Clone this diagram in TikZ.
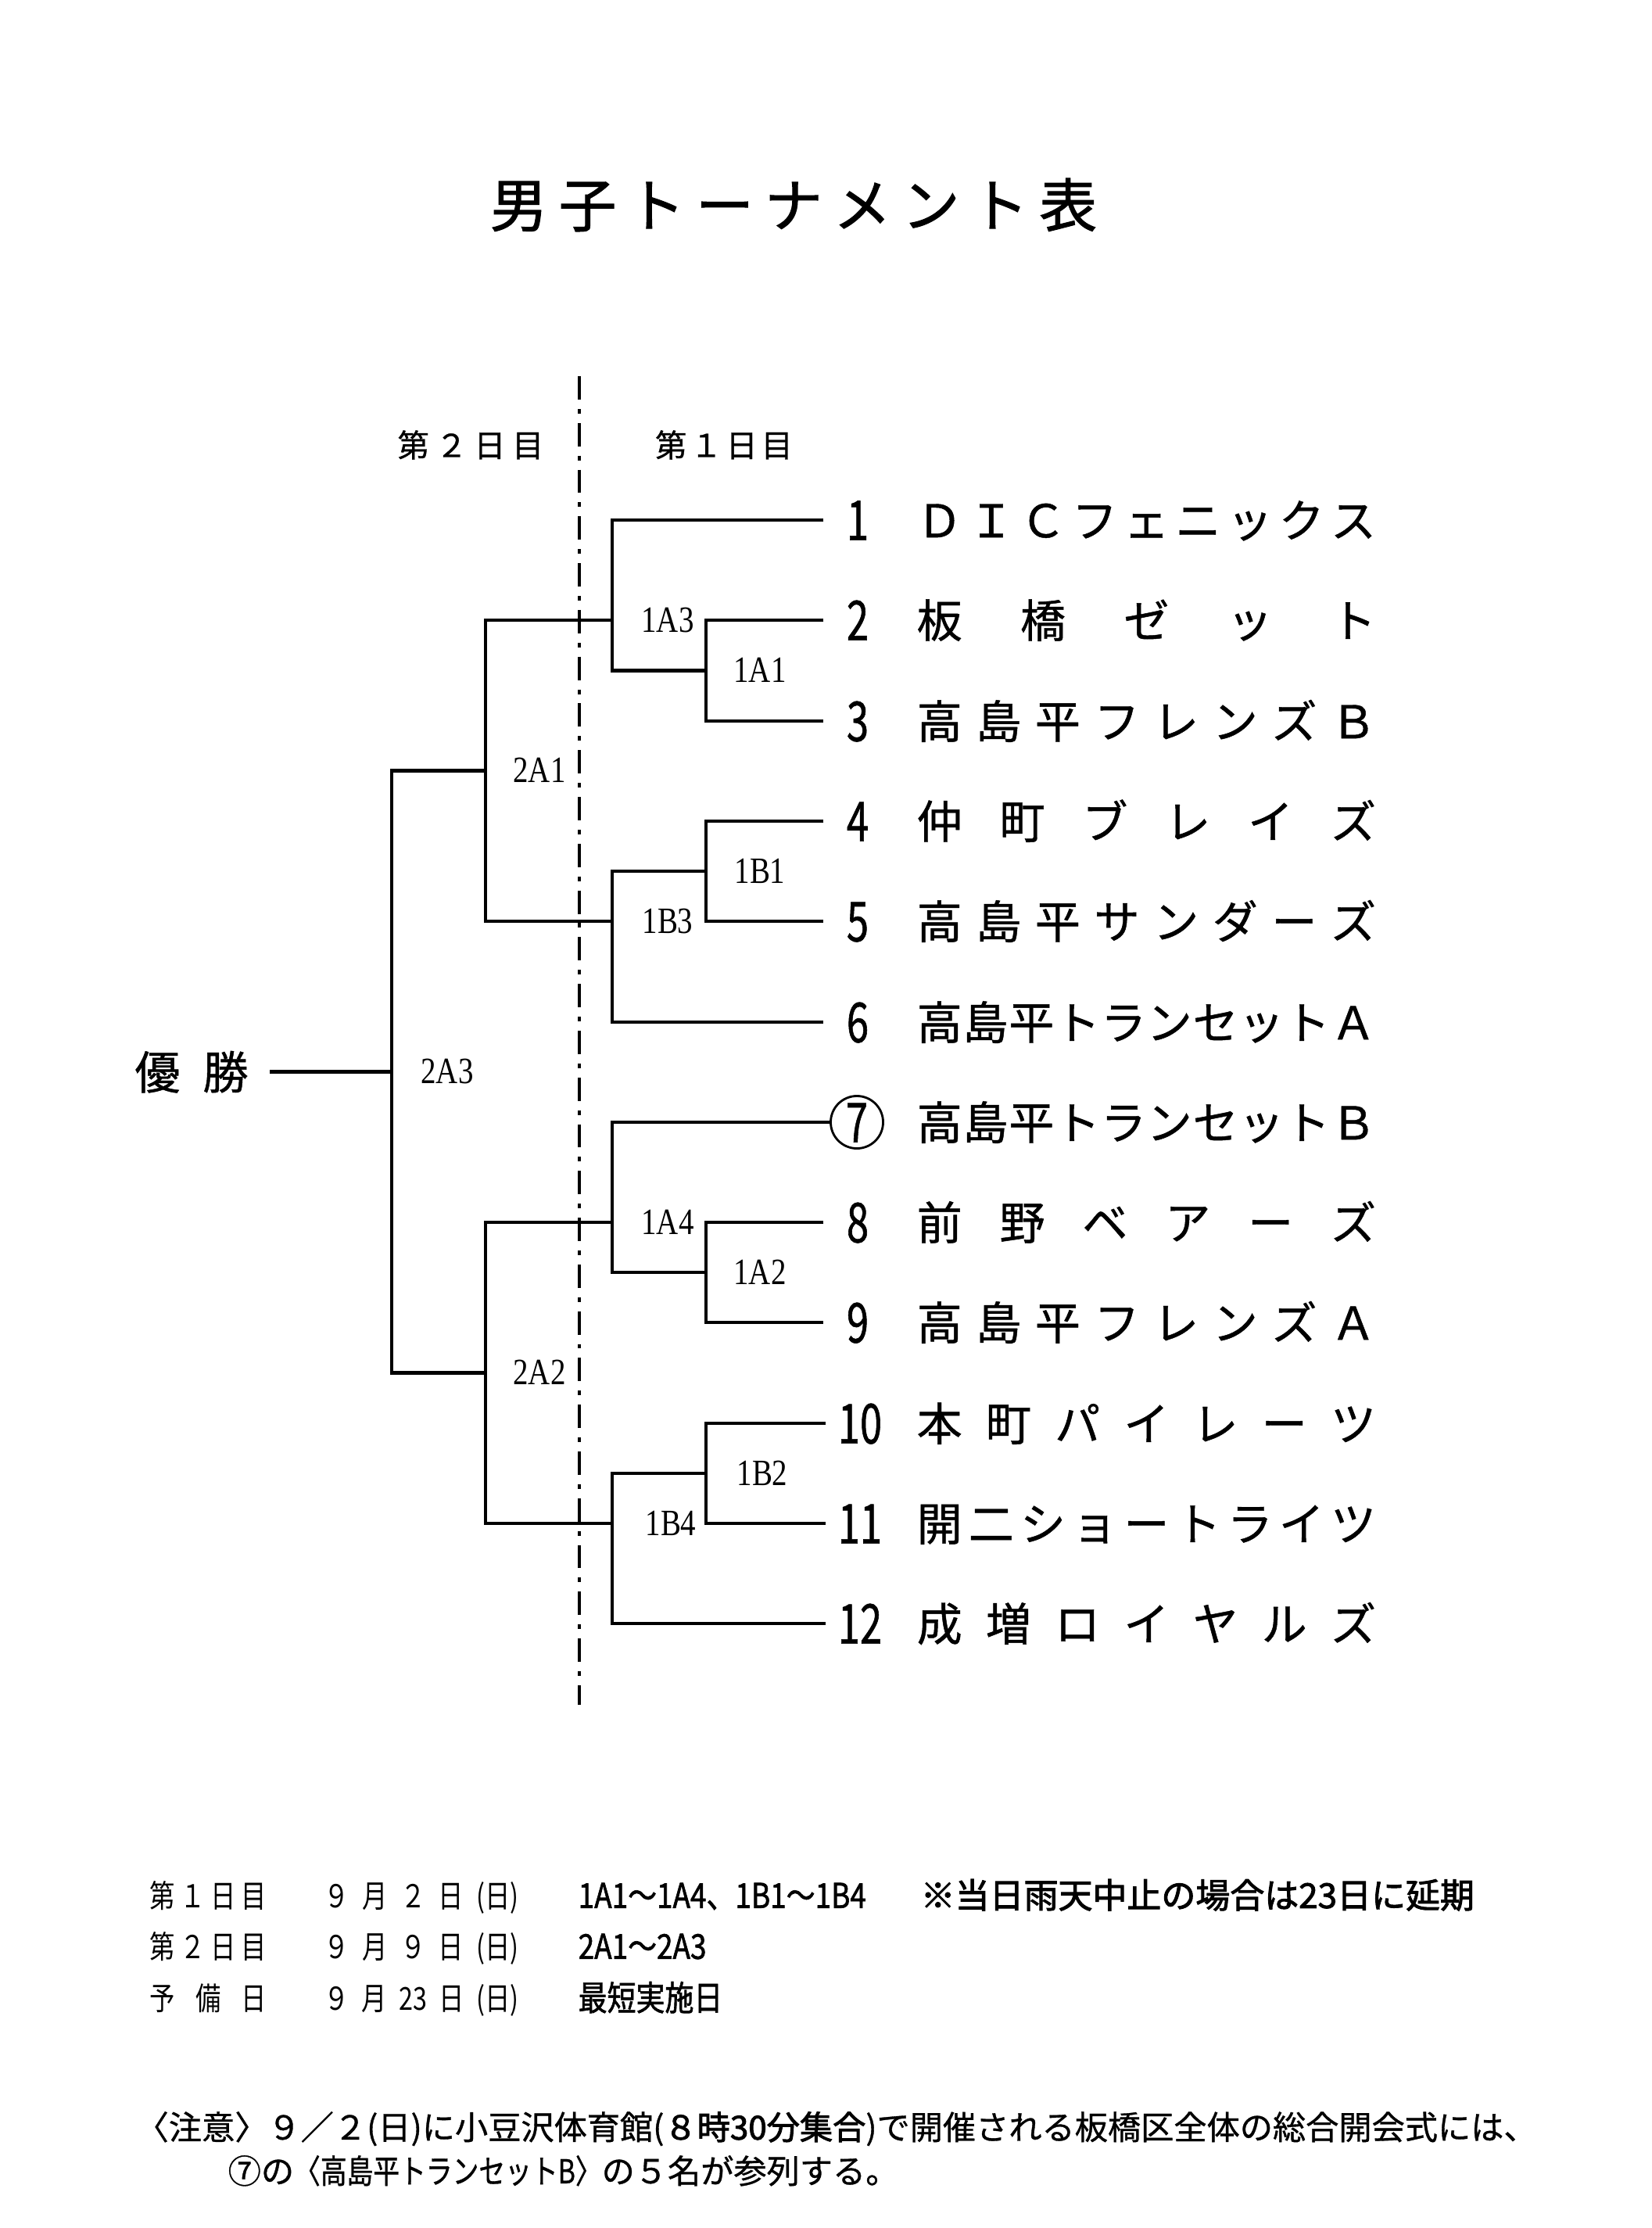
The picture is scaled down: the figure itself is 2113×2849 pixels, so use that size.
\documentclass[tikz,border=0pt]{standalone}
\usepackage{fontspec}
\setmainfont{Noto Sans CJK JP}
\newfontfamily\jpfont{Noto Sans CJK JP}
\newfontfamily\jpmedium[FakeBold=0.8]{Noto Sans CJK JP}
\newfontfamily\jptitle[FakeBold=1.4]{Noto Sans CJK JP}
\newfontfamily\jpheavy[FakeBold=2.2]{Noto Sans CJK JP}
\newfontfamily\jpnarrow[FakeStretch=0.8]{Noto Sans CJK JP}
\newfontfamily\jpnarrowmed[FakeStretch=0.8,FakeBold=0.8]{Noto Sans CJK JP}
\newfontfamily\jpnarrowbold[FakeStretch=0.84,FakeBold=1.4]{Noto Sans CJK JP}
\newfontfamily\numfont[FakeStretch=0.72,FakeBold=0.8]{Noto Sans CJK JP}
\newfontfamily\gamefont[FakeStretch=0.82]{Liberation Serif}
\usetikzlibrary{shapes}

\def\spreadit#1#2\endspread{#1\ifx\relax#2\relax\else\hfill\spreadit#2\endspread\fi}
\newcommand\spreadbox[2]{\makebox[#1][s]{\spreadit#2\endspread}}

\begin{document}
\begin{tikzpicture}[x=0.01cm,y=-0.01cm]
		\tikzstyle{heading}=[inner sep=0,font=\jptitle\fontsize{21pt}{21pt}\selectfont]
		\tikzstyle{daylabel}=[inner sep=0,font=\jpmedium\fontsize{11.5pt}{11.5pt}\selectfont]
		\tikzstyle{team}=[anchor=west,inner sep=0,text height=13.9pt,text depth=1.3pt,font=\jpmedium\fontsize{16.5pt}{16.5pt}\selectfont]
		\tikzstyle{num}=[inner sep=0,minimum width=0.86cm,text height=14.6pt,text depth=0pt,font=\numfont\fontsize{20pt}{20pt}\selectfont]
		\tikzstyle{numcirc}=[circle,draw,line width=0.8pt,inner sep=0,minimum size=0.67cm,text height=14.6pt,text depth=0pt,font=\numfont\fontsize{20pt}{20pt}\selectfont]
		\tikzstyle{winner}=[inner sep=0,inner xsep=0.27cm,text height=13.9pt,text depth=1.3pt,font=\jpmedium\fontsize{16.5pt}{16.5pt}\selectfont]
		\tikzstyle{game}=[inner sep=0,text height=8.9pt,text depth=0pt,font=\gamefont\fontsize{13.5pt}{13.5pt}\selectfont]
		\tikzstyle{bracket}=[line width=1.3pt]
		\tikzstyle{dayline}=[line width=1pt,dash pattern=on 8.5pt off 3.4pt on 1.7pt off 3.4pt]
		\tikzstyle{sched}=[anchor=west,inner sep=0,text height=10pt,text depth=1pt,font=\jpnarrow\fontsize{11.5pt}{11.5pt}\selectfont]
		\tikzstyle{schedb}=[anchor=west,inner sep=0,text height=10pt,text depth=1pt,font=\jpnarrowbold\fontsize{12.5pt}{12.5pt}\selectfont]
		\tikzstyle{schedx}=[anchor=west,inner sep=0,text height=10pt,text depth=1pt,font=\jpheavy\fontsize{12.5pt}{12.5pt}\selectfont]
		\tikzstyle{note}=[anchor=west,inner sep=0,text height=10pt,text depth=1pt,font=\jpmedium\fontsize{12pt}{12pt}\selectfont]

		\useasboundingbox (0,0) rectangle (2113,2849);

		\node[heading] (title) at (1015,262) {\spreadbox{7.76cm}{男子トーナメント表}};

		\node[daylabel] (day2) at (602,569) {\spreadbox{1.87cm}{第２日目}};
		\node[daylabel] (day1) at (926,569) {\spreadbox{1.76cm}{第１日目}};
		\coordinate (dtop) at (741,481);
		\coordinate (dbot) at (741,2180);
		\draw[dayline] (dtop) -- (dbot);

		\node[num] (n1) at (1097,665) {1};
		\node[num] (n2) at (1097,793) {2};
		\node[num] (n3) at (1097,922) {3};
		\node[num] (n4) at (1097,1050) {4};
		\node[num] (n5) at (1097,1178) {5};
		\node[num] (n6) at (1097,1307) {6};
		\node[numcirc] (n7) at (1096,1435) {7};
		\node[num] (n8) at (1097,1563) {8};
		\node[num] (n9) at (1097,1691) {9};
		\node[num] (n10) at (1100,1820) {10};
		\node[num] (n11) at (1100,1948) {11};
		\node[num] (n12) at (1100,2076) {12};

		\node[team] (t1) at (1172,665) {\spreadbox{5.87cm}{ＤＩＣフェニックス}};
		\node[team] (t2) at (1172,793) {\spreadbox{5.87cm}{板橋ゼット}};
		\node[team] (t3) at (1172,922) {\spreadbox{5.87cm}{高島平フレンズＢ}};
		\node[team] (t4) at (1172,1050) {\spreadbox{5.87cm}{仲町ブレイズ}};
		\node[team] (t5) at (1172,1178) {\spreadbox{5.87cm}{高島平サンダーズ}};
		\node[team] (t6) at (1172,1307) {\spreadbox{5.87cm}{高島平トランセットＡ}};
		\node[team] (t7) at (1172,1435) {\spreadbox{5.87cm}{高島平トランセットＢ}};
		\node[team] (t8) at (1172,1563) {\spreadbox{5.87cm}{前野ベアーズ}};
		\node[team] (t9) at (1172,1691) {\spreadbox{5.87cm}{高島平フレンズＡ}};
		\node[team] (t10) at (1172,1820) {\spreadbox{5.87cm}{本町パイレーツ}};
		\node[team] (t11) at (1172,1948) {\spreadbox{5.87cm}{開二ショートライツ}};
		\node[team] (t12) at (1172,2076) {\spreadbox{5.87cm}{成増ロイヤルズ}};

		\coordinate (a1) at (903,857.5);
		\coordinate (a2) at (903,1114);
		\coordinate (a3) at (783,793);
		\coordinate (a4) at (783,1178);
		\coordinate (a5) at (903,1627);
		\coordinate (a6) at (783,1563);
		\coordinate (a7) at (903,1884);
		\coordinate (a8) at (783,1948);
		\coordinate (b1) at (621,985.5);
		\coordinate (b2) at (621,1755.5);
		\coordinate (c) at (501,1370.5);
		\node[winner] (win) at (245,1370.5) {\spreadbox{1.45cm}{優勝}};

		\draw[bracket] (n2.west) -| (a1) |- (n3.west);
		\draw[bracket] (n1.west) -| (a3) |- (a1);
		\draw[bracket] (n4.west) -| (a2) |- (n5.west);
		\draw[bracket] (a2) -| (a4) |- (n6.west);
		\draw[bracket] (a3) -| (b1) |- (a4);

		\draw[bracket] (n8.west) -| (a5) |- (n9.west);
		\draw[bracket] (n7.west) -| (a6) |- (a5);
		\draw[bracket] (n10.west) -| (a7) |- (n11.west);
		\draw[bracket] (a7) -| (a8) |- (n12.west);
		\draw[bracket] (a6) -| (b2) |- (a8);

		\draw[bracket] (b1) -| (c) |- (b2);
		\draw[bracket] (win.east) -- (c);

		\node[game] (g1a3) at (854,793) {1A3};
		\node[game] (g1a1) at (972,857) {1A1};
		\node[game] (g2a1) at (690,985) {2A1};
		\node[game] (g1b1) at (972,1114) {1B1};
		\node[game] (g1b3) at (854,1178) {1B3};
		\node[game] (g2a3) at (572,1370) {2A3};
		\node[game] (g1a4) at (854,1563) {1A4};
		\node[game] (g1a2) at (972,1627) {1A2};
		\node[game] (g2a2) at (690,1755) {2A2};
		\node[game] (g1b2) at (975,1884) {1B2};
		\node[game] (g1b4) at (858,1948) {1B4};

		\node[sched] (s1a) at (191,2424) {\makebox[1.49cm][s]{第\hfill １\hfill 日\hfill 目}};
		\node[sched] (s1b) at (414,2424) {\makebox[2.49cm][s]{９\hfill 月\hfill ２\hfill 日\hfill (日)}};
		\node[schedb] (s1c) at (739,2424) {1A1～1A4、1B1～1B4};
		\node[schedx] (s1d) at (1177,2424) {※当日雨天中止の場合は23日に延期};
		\node[sched] (s2a) at (191,2489) {\makebox[1.49cm][s]{第\hfill ２\hfill 日\hfill 目}};
		\node[sched] (s2b) at (414,2489) {\makebox[2.49cm][s]{９\hfill 月\hfill ９\hfill 日\hfill (日)}};
		\node[schedb] (s2c) at (739,2489) {2A1～2A3};
		\node[sched] (s3a) at (191,2555) {\makebox[1.49cm][s]{予\hfill 備\hfill 日}};
		\node[sched] (s3b) at (414,2555) {\makebox[2.49cm][s]{９\hfill 月\hfill 23\hfill 日\hfill (日)}};
		\node[schedb] (s3c) at (739,2555) {最短実施日};

		\node[note] (note1) at (173,2720) {〈注意〉９／２(日)に小豆沢体育館({\jpheavy ８時30分集合})で開催される板橋区全体の総合開会式には、};
		\node[note] (note2) at (291,2776) {⑦の{\jpnarrowmed〈高島平トランセットB〉}の５名が参列する。};

\end{tikzpicture}
\end{document}
